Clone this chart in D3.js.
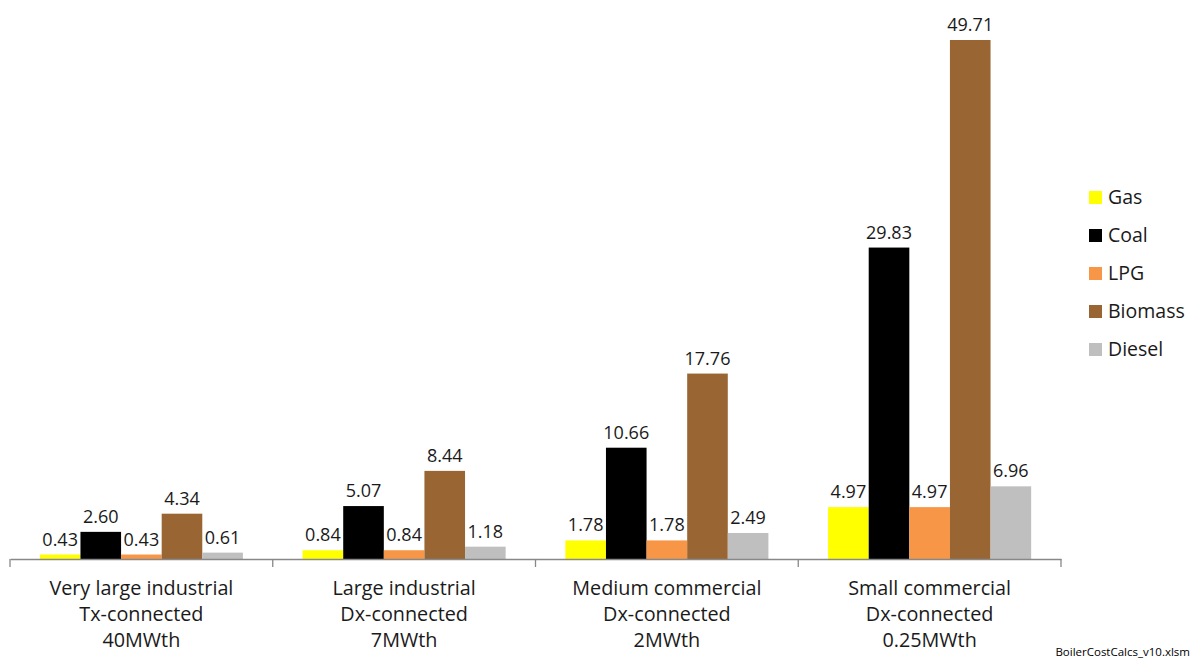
<!DOCTYPE html>
<html><head><meta charset="utf-8">
<script src="https://cdn.jsdelivr.net/npm/d3@7"></script>
<style>body{margin:0;background:#fff;} text{font-family:"Open Sans",Lato,sans-serif;}</style>
</head><body>
<svg id="c" width="1197" height="662"></svg>
<script>
const categories = [
  ["Very large industrial","Tx-connected","40MWth"],
  ["Large industrial","Dx-connected","7MWth"],
  ["Medium commercial","Dx-connected","2MWth"],
  ["Small commercial","Dx-connected","0.25MWth"]
];
const seriesNames = ["Gas","Coal","LPG","Biomass","Diesel"];
const seriesColors = ["#ffff00","#000000","#f79646","#996633","#bfbfbf"];
const gas = [0.43, 0.84, 1.78, 4.97];
const coal = [2.60, 5.07, 10.66, 29.83];
const lpg = [0.43, 0.84, 1.78, 4.97];
const biomass = [4.34, 8.44, 17.76, 49.71];
const diesel = [0.61, 1.18, 2.49, 6.96];
const seriesValues = [gas, coal, lpg, biomass, diesel];

const svg = d3.select("#c");
const x0 = d3.scaleBand().domain(d3.range(categories.length)).range([10, 1061]).paddingInner(0).paddingOuter(0);
const x1 = d3.scaleBand().domain(d3.range(seriesNames.length)).range([0, x0.bandwidth()]).paddingOuter(0.735).paddingInner(0);
const y = d3.scaleLinear().domain([0, 49.71]).range([559, 40]);

const g = svg.append("g");
seriesValues.forEach((vals, si) => {
  vals.forEach((v, ci) => {
    const bx = x0(ci) + x1(si);
    g.append("rect").attr("x", bx).attr("y", y(v)).attr("width", x1.bandwidth()).attr("height", y(0) - y(v))
      .attr("fill", seriesColors[si]);
  });
});
seriesValues.forEach((vals, si) => {
  vals.forEach((v, ci) => {
    const bx = x0(ci) + x1(si) + x1.bandwidth() / 2;
    g.append("text").attr("x", bx).attr("y", y(v) - 9).attr("text-anchor", "middle")
      .attr("font-size", 18).attr("fill", "#1a1a1a").text(v.toFixed(2));
  });
});

// axis
const axis = d3.axisBottom(x0).tickSize(0).tickFormat("");
const ag = svg.append("g").attr("transform", "translate(0,559)").call(axis);
ag.select(".domain").attr("stroke", "#888").attr("stroke-width", 1.3);
const bounds = d3.range(categories.length + 1).map(i => i < categories.length ? x0(i) : x0(categories.length - 1) + x0.bandwidth());
bounds.forEach(bx => {
  ag.append("line").attr("x1", bx).attr("x2", bx).attr("y1", 0).attr("y2", 8).attr("stroke", "#888").attr("stroke-width", 1.3);
});
categories.forEach((lines, ci) => {
  const cx = x0(ci) + x0.bandwidth() / 2;
  lines.forEach((ln, li) => {
    svg.append("text").attr("x", cx).attr("y", 595 + li * 26).attr("text-anchor", "middle")
      .attr("font-size", 19.8).attr("fill", "#1a1a1a").text(ln);
  });
});

// legend
seriesNames.forEach((n, i) => {
  const ly = 197 + i * 38;
  svg.append("rect").attr("x", 1089).attr("y", ly - 6).attr("width", 13).attr("height", 13).attr("fill", seriesColors[i]);
  svg.append("text").attr("x", 1108).attr("y", ly + 7).attr("font-size", 19.5).attr("fill", "#1a1a1a").text(n);
});

svg.append("text").attr("x", 1190).attr("y", 656).attr("text-anchor", "end").attr("font-size", 11.5)
  .attr("fill", "#000").text("BoilerCostCalcs_v10.xlsm");
</script>
</body></html>
